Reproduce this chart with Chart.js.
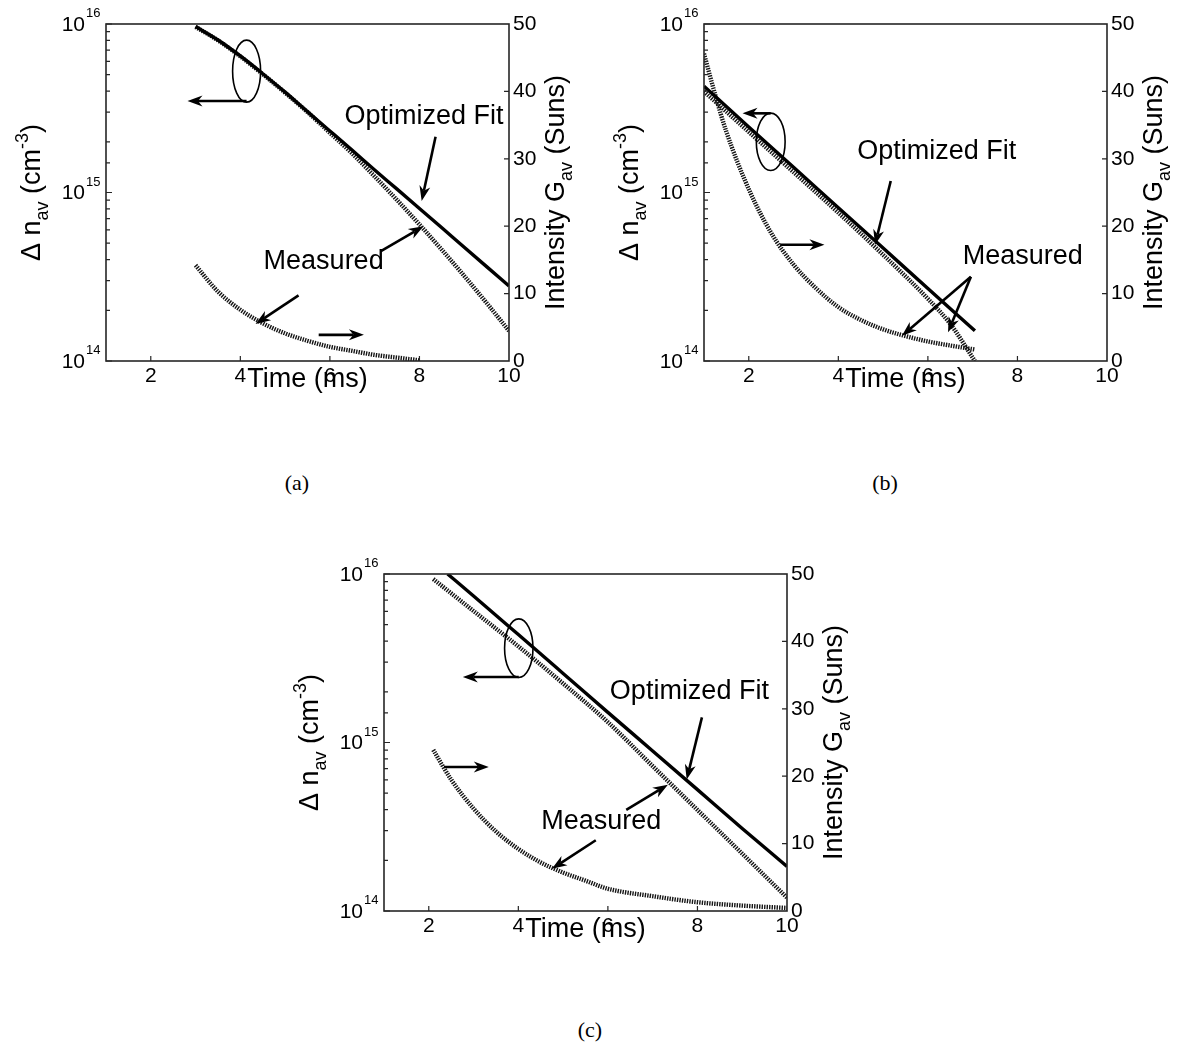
<!DOCTYPE html>
<html>
<head>
<meta charset="utf-8">
<script src="https://cdn.jsdelivr.net/npm/chart.js@4.4.1/dist/chart.umd.min.js"></script>
<style>
  html, body { margin: 0; padding: 0; background: #fff; }
  body { width: 1190px; height: 1050px; position: relative; overflow: hidden; }
  .panel { position: absolute; width: 600px; height: 420px; }
  .panel canvas { display: block; }
  .cap { position: absolute; width: 60px; margin-left: -30px; text-align: center;
         font-family: "Liberation Serif", "DejaVu Serif", serif; font-size: 22px; line-height: 26px; }
</style>
</head>
<body>
<div class="panel" style="left:0;top:0"><canvas id="chartA" width="600" height="420"></canvas></div>
<div class="panel" style="left:598px;top:0"><canvas id="chartB" width="600" height="420"></canvas></div>
<div class="panel" style="left:278px;top:550px"><canvas id="chartC" width="600" height="420"></canvas></div>
<div class="cap" style="left:297px;top:470px">(a)</div>
<div class="cap" style="left:885px;top:470px">(b)</div>
<div class="cap" style="left:590px;top:1017px">(c)</div>

<script>
const FONT = '"Liberation Sans", Arial, sans-serif';
Chart.defaults.font.family = FONT;
Chart.defaults.color = '#000';

// axis ticks
const timeTicks = [2, 4, 6, 8, 10];
const nTicks = [1e14, 1e15, 1e16];
const gTicks = [0, 10, 20, 30, 40, 50];

// (a) carrier density (cm^-3) and intensity (Suns) vs time (ms)
const fitTimeA  = [3, 3.5, 4, 4.5, 5, 5.5, 6, 6.5, 7, 7.5, 8, 8.5, 9, 9.5, 10];
const fitA      = [9.66e15, 8.04e15, 6.46e15, 5.07e15, 3.94e15, 3.02e15, 2.32e15, 1.78e15, 1.36e15, 1.047e15, 8.04e14, 6.17e14, 4.73e14, 3.63e14, 2.79e14];
const measTimeA = [3, 3.5, 4, 4.5, 5, 5.5, 6, 6.5, 7, 7.5, 8, 8.5, 9, 9.5, 10];
const measA     = [9.6e15, 8.0e15, 6.42e15, 5.04e15, 3.91e15, 3.0e15, 2.26e15, 1.70e15, 1.245e15, 9.02e14, 6.46e14, 4.57e14, 3.20e14, 2.21e14, 1.51e14];
const genTimeA  = [3, 3.5, 4, 4.5, 5, 5.5, 6, 6.5, 7, 7.5, 8];
const genA      = [14.2, 10.3, 7.6, 5.6, 4.1, 3.0, 2.1, 1.5, 0.9, 0.5, 0.1];

// (b)
const fitTimeB  = [1, 2, 3, 4, 5, 6, 7.05];
const fitB      = [4.27e15, 2.45e15, 1.41e15, 8.13e14, 4.68e14, 2.69e14, 1.51e14];
const measTimeB = [1, 2, 3, 4, 5, 6, 6.5, 7.05];
const measB     = [3.98e15, 2.29e15, 1.32e15, 7.59e14, 4.27e14, 2.34e14, 1.66e14, 1.0e14];
const genTimeB  = [1, 1.25, 1.5, 2, 2.5, 3, 3.5, 4, 4.5, 5, 5.5, 6, 6.5, 7.05];
const genB      = [45.6, 39.5, 34.0, 25.5, 19.0, 14.3, 10.8, 8.0, 6.1, 4.7, 3.7, 2.9, 2.3, 1.7];

// (c)
const fitTimeC  = [2.42, 3, 4, 5, 6, 7, 8, 9, 10];
const fitC      = [1.0e16, 7.41e15, 4.37e15, 2.57e15, 1.51e15, 8.91e14, 5.25e14, 3.09e14, 1.84e14];
const measTimeC = [2.1, 3, 4, 5, 6, 7, 8, 9, 10];
const measC     = [9.33e15, 6.03e15, 3.72e15, 2.24e15, 1.32e15, 7.24e14, 3.98e14, 2.19e14, 1.20e14];
const genTimeC  = [2.1, 2.5, 3, 3.5, 4, 4.5, 5, 5.5, 6, 7, 8, 9, 10];
const genC      = [23.9, 19.5, 15.2, 11.8, 9.2, 7.2, 5.7, 4.5, 3.3, 2.2, 1.3, 0.8, 0.45];

// callouts, placed in (time, density) units
const notesA = {
  ellipse: [4.14, 5.25e15, 14, 31],
  arrows: [[4.14, 3.49e15, 2.82, 3.49e15], [8.36, 2.14e15, 8.05, 8.91e14],
           [7.13, 4.47e14, 8.09, 6.31e14], [5.30, 2.45e14, 4.34, 1.66e14],
           [5.75, 1.43e14, 6.76, 1.43e14]],
  labels: [['Optimized Fit', 8.10, 2.82e15], ['Measured', 5.86, 3.89e14]]
};
const notesB = {
  ellipse: [2.49, 2.0e15, 14.4, 28.7],
  arrows: [[2.49, 2.95e15, 1.86, 2.95e15], [5.17, 1.17e15, 4.82, 4.90e14],
           [6.96, 3.16e14, 5.42, 1.41e14], [6.96, 3.16e14, 6.45, 1.48e14],
           [2.70, 4.9e14, 3.69, 4.9e14]],
  labels: [['Optimized Fit', 6.20, 1.74e15], ['Measured', 8.12, 4.17e14]]
};
const notesC = {
  ellipse: [4.01, 3.63e15, 14.2, 29.3],
  arrows: [[4.01, 2.45e15, 2.76, 2.45e15], [8.10, 1.41e15, 7.76, 6.03e14],
           [6.41, 3.98e14, 7.34, 5.62e14], [5.73, 2.63e14, 4.75, 1.78e14],
           [2.34, 7.16e14, 3.34, 7.16e14]],
  labels: [['Optimized Fit', 7.82, 2.0e15], ['Measured', 5.85, 3.39e14]]
};

const pts = (xs, ys) => xs.map((x, i) => ({ x: x, y: ys[i] }));

// text with sub/superscripts, centred on x
function drawRich(ctx, parts, x, y, size) {
  const fontOf = p => (p[1] ? Math.round(size * 0.68) : size) + 'px ' + FONT;
  let w = 0;
  parts.forEach(p => { ctx.font = fontOf(p); w += ctx.measureText(p[0]).width; });
  let cx = x - w / 2;
  ctx.textAlign = 'left';
  ctx.textBaseline = 'alphabetic';
  parts.forEach(p => {
    ctx.font = fontOf(p);
    const dy = p[1] === 'sub' ? size * 0.3 : p[1] === 'sup' ? -size * 0.45 : 0;
    ctx.fillText(p[0], cx, y + dy);
    cx += ctx.measureText(p[0]).width;
  });
}

function drawArrow(ctx, x0, y0, x1, y1) {
  const a = Math.atan2(y1 - y0, x1 - x0);
  const hl = 15, hw = 5.5;
  const c = Math.cos(a), s = Math.sin(a);
  ctx.beginPath();
  ctx.moveTo(x0, y0);
  ctx.lineTo(x1 - hl * 0.7 * c, y1 - hl * 0.7 * s);
  ctx.stroke();
  ctx.beginPath();
  ctx.moveTo(x1, y1);
  ctx.lineTo(x1 - hl * c + hw * s, y1 - hl * s - hw * c);
  ctx.lineTo(x1 - hl * 0.7 * c, y1 - hl * 0.7 * s);
  ctx.lineTo(x1 - hl * c - hw * s, y1 - hl * s + hw * c);
  ctx.closePath();
  ctx.fill();
}

// box, inward tick marks, log labels and axis titles
const framePlugin = {
  id: 'frame',
  afterDraw(chart) {
    const { ctx, chartArea: a, scales } = chart;
    const x = scales.x, y = scales.y, y2 = scales.y2;
    ctx.save();
    ctx.strokeStyle = '#262626';
    ctx.lineWidth = 1.6;
    ctx.strokeRect(a.left, a.top, a.right - a.left, a.bottom - a.top);

    ctx.beginPath();
    ctx.lineWidth = 1.2;
    timeTicks.forEach(v => {
      const px = x.getPixelForValue(v);
      if (px < a.right - 1) { ctx.moveTo(px, a.bottom); ctx.lineTo(px, a.bottom - 5); }
    });
    y.ticks.forEach(t => {
      const py = y.getPixelForValue(t.value);
      const lg = Math.log10(t.value);
      const major = Math.abs(lg - Math.round(lg)) < 1e-6;
      ctx.moveTo(a.left, py); ctx.lineTo(a.left + (major ? 6 : 4), py);
    });
    gTicks.forEach(v => {
      const py = y2.getPixelForValue(v);
      if (py > a.top + 1 && py < a.bottom - 1) { ctx.moveTo(a.right, py); ctx.lineTo(a.right - 5, py); }
    });
    ctx.stroke();

    // 10^n labels on the density axis
    ctx.fillStyle = '#000';
    nTicks.forEach(v => {
      const py = y.getPixelForValue(v);
      ctx.font = '21px ' + FONT;
      ctx.textAlign = 'right';
      ctx.textBaseline = 'middle';
      ctx.fillText('10', a.left - 21, py + 1);
      ctx.font = '13px ' + FONT;
      ctx.textAlign = 'left';
      ctx.textBaseline = 'alphabetic';
      ctx.fillText(String(Math.round(Math.log10(v))), a.left - 20, py - 7);
    });

    const midY = (a.top + a.bottom) / 2;
    ctx.save();
    ctx.translate(a.left - 66, midY);
    ctx.rotate(-Math.PI / 2);
    drawRich(ctx, [['\u0394 n'], ['av', 'sub'], [' (cm'], ['-3', 'sup'], [')']], 0, 0, 27);
    ctx.restore();

    ctx.save();
    ctx.translate(a.right + 55, midY);
    ctx.rotate(-Math.PI / 2);
    drawRich(ctx, [['Intensity G'], ['av', 'sub'], [' (Suns)']], 0, 0, 27);
    ctx.restore();
    ctx.restore();
  }
};

// ellipse, arrows and labels of the callouts
const notesPlugin = {
  id: 'notes',
  afterDraw(chart, args, opts) {
    const { ctx, scales } = chart;
    const px = v => scales.x.getPixelForValue(v);
    const py = v => scales.y.getPixelForValue(v);
    ctx.save();
    ctx.strokeStyle = '#000';
    ctx.fillStyle = '#000';
    const e = opts.ellipse;
    ctx.lineWidth = 1.6;
    ctx.beginPath();
    ctx.ellipse(px(e[0]), py(e[1]), e[2], e[3], 0, 0, Math.PI * 2);
    ctx.stroke();
    ctx.lineWidth = 2.6;
    opts.arrows.forEach(r => drawArrow(ctx, px(r[0]), py(r[1]), px(r[2]), py(r[3])));
    ctx.font = '27px ' + FONT;
    ctx.textAlign = 'center';
    ctx.textBaseline = 'middle';
    opts.labels.forEach(l => ctx.fillText(l[0], px(l[1]), py(l[2])));
    ctx.restore();
  }
};

function makePanel(id, fit, meas, gen, notes) {
  new Chart(document.getElementById(id), {
    type: 'line',
    data: {
      datasets: [
        { data: fit, yAxisID: 'y', borderColor: '#000', borderWidth: 3.4 },
        { data: meas, yAxisID: 'y', borderColor: '#151515', borderWidth: 4.4, borderDash: [1.4, 1.1] },
        { data: gen, yAxisID: 'y2', borderColor: '#151515', borderWidth: 4.4, borderDash: [1.4, 1.1] }
      ]
    },
    options: {
      responsive: false,
      animation: false,
      events: [],
      layout: { padding: { top: 24, left: 0, right: 0, bottom: 0 } },
      elements: {
        point: { radius: 0 },
        line: { cubicInterpolationMode: 'monotone', fill: false, borderCapStyle: 'butt' }
      },
      plugins: { legend: { display: false }, tooltip: { enabled: false }, notes: notes },
      scales: {
        x: {
          type: 'linear', min: 1, max: 10,
          grid: { display: false, drawTicks: false }, border: { display: false },
          afterBuildTicks: s => { s.ticks = timeTicks.map(v => ({ value: v })); },
          afterFit: s => { s.height = 59; },
          ticks: { font: { size: 21 }, color: '#000', padding: 3, maxRotation: 0, autoSkip: false },
          title: { display: true, text: 'Time (ms)', font: { size: 27 }, color: '#000', padding: { top: 0, bottom: 24 } }
        },
        y: {
          type: 'logarithmic', position: 'left', min: 1e14, max: 1e16,
          grid: { display: false, drawTicks: false }, border: { display: false },
          ticks: { display: false },
          afterFit: s => { s.width = 106; }
        },
        y2: {
          type: 'linear', position: 'right', min: 0, max: 50,
          grid: { display: false, drawTicks: false }, border: { display: false },
          afterBuildTicks: s => { s.ticks = gTicks.map(v => ({ value: v })); },
          ticks: { font: { size: 21 }, color: '#000', padding: 4 },
          afterFit: s => { s.width = 91; }
        }
      }
    },
    plugins: [framePlugin, notesPlugin]
  });
}

makePanel('chartA', pts(fitTimeA, fitA), pts(measTimeA, measA), pts(genTimeA, genA), notesA);
makePanel('chartB', pts(fitTimeB, fitB), pts(measTimeB, measB), pts(genTimeB, genB), notesB);
makePanel('chartC', pts(fitTimeC, fitC), pts(measTimeC, measC), pts(genTimeC, genC), notesC);
</script>
</body>
</html>
